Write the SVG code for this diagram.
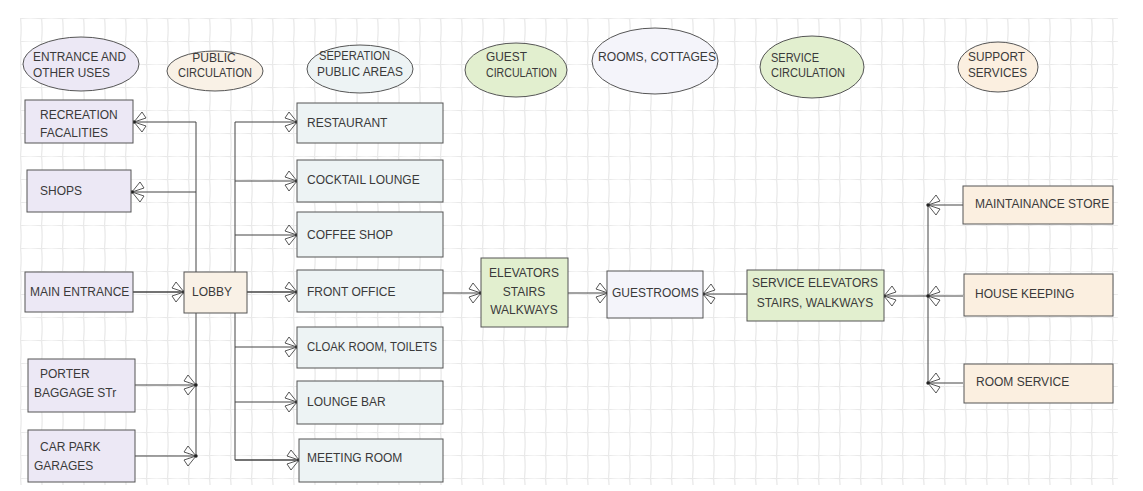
<svg xmlns="http://www.w3.org/2000/svg" width="1143" height="491" viewBox="0 0 1143 491">
<style>
.t{font-family:"Liberation Sans",Arial,sans-serif;font-size:12px;fill:#3a3a3a;dominant-baseline:central}
.c{text-anchor:middle}
.box{stroke:#555;stroke-width:1}
.ell{stroke:#555;stroke-width:1}
.ln{fill:none;stroke:#444;stroke-width:1}
.lav{fill:#ece8f5}
.blu{fill:#edf3f4}
.grn{fill:#e2efcf}
.crm{fill:#f9f1e6}
.pch{fill:#fbefe0}
.rm{fill:#f4f4fa}
</style>
<defs>
<pattern id="grid" x="20" y="18" width="21" height="23" patternUnits="userSpaceOnUse">
<path d="M0.5 0 Q1.8 11 0.5 23 M0 0.5 Q10 -0.8 21 0.5" fill="none" stroke="#e9e9e9" stroke-width="1.3"/>
</pattern>
<marker id="ah" viewBox="0 0 16 24" refX="14" refY="12" markerWidth="16" markerHeight="24" markerUnits="userSpaceOnUse" orient="auto">
<path d="M14 12 L6 2 L2 8 Z M14 12 L2 16 L6 22 Z" fill="#fff" fill-opacity="0.6" stroke="#444" stroke-width="0.9"/>
<circle cx="14" cy="12" r="1.7" fill="#222"/>
</marker>
</defs>
<rect width="1143" height="491" fill="#fff"/>
<rect x="20" y="18" width="1098" height="467" fill="url(#grid)"/>

<g id="ellipses">
<g id="h-entrance"><ellipse class="ell lav" cx="81" cy="64" rx="58" ry="27"/><text class="t" x="33" y="57" textLength="93" lengthAdjust="spacingAndGlyphs">ENTRANCE AND</text><text class="t" x="33" y="73" textLength="77" lengthAdjust="spacingAndGlyphs">OTHER USES</text></g>
<g id="h-public"><ellipse class="ell crm" cx="215" cy="71" rx="48" ry="20"/><text class="t c" x="214" y="58">PUBLIC</text><text class="t" x="178" y="73" textLength="74" lengthAdjust="spacingAndGlyphs">CIRCULATION</text></g>
<g id="h-seperation"><ellipse class="ell blu" cx="360" cy="69" rx="53" ry="24"/><text class="t" x="319" y="56" textLength="71" lengthAdjust="spacingAndGlyphs">SEPERATION</text><text class="t" x="317" y="72" textLength="86" lengthAdjust="spacingAndGlyphs">PUBLIC AREAS</text></g>
<g id="h-guest"><ellipse class="ell grn" cx="516" cy="70" rx="51" ry="27"/><text class="t" x="486" y="57" textLength="41" lengthAdjust="spacingAndGlyphs">GUEST</text><text class="t" x="486" y="73" textLength="71" lengthAdjust="spacingAndGlyphs">CIRCULATION</text></g>
<g id="h-rooms"><ellipse class="ell rm" cx="655" cy="61" rx="63" ry="33"/><text class="t" x="598" y="57" textLength="118" lengthAdjust="spacingAndGlyphs">ROOMS, COTTAGES</text></g>
<g id="h-service"><ellipse class="ell grn" cx="812" cy="67" rx="52" ry="31"/><text class="t" x="771" y="58" textLength="48" lengthAdjust="spacingAndGlyphs">SERVICE</text><text class="t" x="771" y="73" textLength="74" lengthAdjust="spacingAndGlyphs">CIRCULATION</text></g>
<g id="h-support"><ellipse class="ell pch" cx="998" cy="67" rx="40" ry="25"/><text class="t" x="968" y="57" textLength="57" lengthAdjust="spacingAndGlyphs">SUPPORT</text><text class="t" x="968" y="73" textLength="59" lengthAdjust="spacingAndGlyphs">SERVICES</text></g>
</g>

<g id="connectors" class="ln">
<line x1="196" y1="122" x2="196" y2="457"/>
<line x1="235" y1="122" x2="235" y2="460"/>
<line x1="928" y1="205" x2="928" y2="383"/>
<line x1="196" y1="122" x2="134" y2="122" marker-end="url(#ah)"/>
<line x1="196" y1="192" x2="132" y2="192" marker-end="url(#ah)"/>
<line x1="133" y1="292" x2="184" y2="292" stroke-width="1.6" marker-end="url(#ah)"/>
<line x1="135" y1="385" x2="196" y2="385" marker-end="url(#ah)"/>
<line x1="135" y1="456" x2="196" y2="456" marker-end="url(#ah)"/>
<line x1="235" y1="122" x2="297" y2="122" marker-end="url(#ah)"/>
<line x1="235" y1="181" x2="297" y2="181" marker-end="url(#ah)"/>
<line x1="235" y1="235" x2="297" y2="235" marker-end="url(#ah)"/>
<line x1="247" y1="292" x2="297" y2="292" stroke-width="1.6" marker-end="url(#ah)"/>
<line x1="235" y1="347" x2="297" y2="347" marker-end="url(#ah)"/>
<line x1="235" y1="402" x2="297" y2="402" marker-end="url(#ah)"/>
<line x1="235" y1="460" x2="299" y2="460" stroke-width="1.4" marker-end="url(#ah)"/>
<line x1="443" y1="293" x2="481" y2="293" marker-end="url(#ah)"/>
<line x1="568" y1="293" x2="608" y2="293" marker-end="url(#ah)"/>
<line x1="748" y1="294" x2="703" y2="294" marker-end="url(#ah)"/>
<line x1="928" y1="296" x2="884" y2="296" marker-end="url(#ah)"/>
<line x1="963" y1="205" x2="928" y2="205" marker-end="url(#ah)"/>
<line x1="963" y1="296" x2="928" y2="296" marker-end="url(#ah)"/>
<line x1="963" y1="383" x2="928" y2="383" marker-end="url(#ah)"/>
</g>

<g id="n-recreation"><rect class="box lav" x="25" y="100" width="108" height="43"/><text class="t" x="40" y="115">RECREATION</text><text class="t" x="40" y="133">FACALITIES</text></g>
<g id="n-shops"><rect class="box lav" x="27" y="170" width="104" height="42"/><text class="t" x="40" y="191">SHOPS</text></g>
<g id="n-main"><rect class="box lav" x="25" y="272" width="108" height="40"/><text class="t" x="30" y="292">MAIN ENTRANCE</text></g>
<g id="n-porter"><rect class="box lav" x="28" y="359" width="107" height="53"/><text class="t" x="40" y="374">PORTER</text><text class="t" x="34" y="393">BAGGAGE STr</text></g>
<g id="n-carpark"><rect class="box lav" x="28" y="430" width="107" height="52"/><text class="t" x="40" y="447">CAR PARK</text><text class="t" x="34" y="466">GARAGES</text></g>
<g id="n-lobby"><rect class="box crm" x="184" y="272" width="63" height="41"/><text class="t" x="192" y="292">LOBBY</text></g>

<g id="n-restaurant"><rect class="box blu" x="297" y="103" width="146" height="40"/><text class="t" x="307" y="123">RESTAURANT</text></g>
<g id="n-cocktail"><rect class="box blu" x="297" y="160" width="146" height="42"/><text class="t" x="307" y="180">COCKTAIL LOUNGE</text></g>
<g id="n-coffee"><rect class="box blu" x="297" y="212" width="146" height="45"/><text class="t" x="307" y="235">COFFEE SHOP</text></g>
<g id="n-front"><rect class="box blu" x="297" y="270" width="146" height="42"/><text class="t" x="307" y="292">FRONT OFFICE</text></g>
<g id="n-cloak"><rect class="box blu" x="297" y="327" width="146" height="41"/><text class="t" x="307" y="347" textLength="130" lengthAdjust="spacingAndGlyphs">CLOAK ROOM, TOILETS</text></g>
<g id="n-loungebar"><rect class="box blu" x="297" y="381" width="146" height="43"/><text class="t" x="307" y="402">LOUNGE BAR</text></g>
<g id="n-meeting"><rect class="box blu" x="299" y="439" width="144" height="43"/><text class="t" x="307" y="458">MEETING ROOM</text></g>

<g id="n-elevators"><rect class="box grn" x="481" y="258" width="87" height="69"/><text class="t c" x="524" y="273">ELEVATORS</text><text class="t c" x="524" y="292">STAIRS</text><text class="t c" x="524" y="310">WALKWAYS</text></g>
<g id="n-guestrooms"><rect class="box rm" x="607" y="271" width="96" height="47"/><text class="t" x="612" y="293">GUESTROOMS</text></g>
<g id="n-serviceelev"><rect class="box grn" x="747" y="270" width="137" height="51"/><text class="t c" x="815" y="283">SERVICE ELEVATORS</text><text class="t c" x="815" y="303">STAIRS, WALKWAYS</text></g>

<g id="n-maint"><rect class="box pch" x="963" y="186" width="150" height="38"/><text class="t" x="975" y="204">MAINTAINANCE STORE</text></g>
<g id="n-house"><rect class="box pch" x="964" y="274" width="149" height="42"/><text class="t" x="975" y="294">HOUSE KEEPING</text></g>
<g id="n-roomservice"><rect class="box pch" x="964" y="364" width="149" height="39"/><text class="t" x="976" y="382">ROOM SERVICE</text></g>
</svg>
